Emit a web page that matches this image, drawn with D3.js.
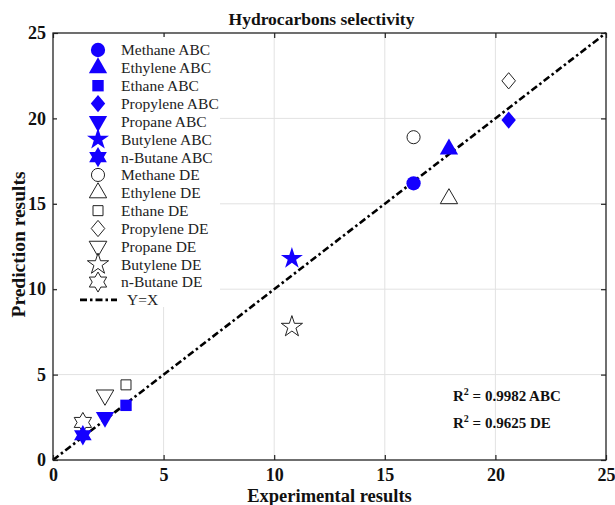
<!DOCTYPE html>
<meta charset="utf-8">
<script src="https://d3js.org/d3.v7.min.js"></script>
<style>
  body { margin: 0; background: #fff; }
  text { font-family: "Liberation Serif", "Times New Roman", serif; }
</style>
<div id="my_dataviz"></div>
<script>
  // values
  var categories = ["Methane", "Ethylene", "Ethane", "Propylene", "Propane", "Butylene", "n-Butane"];
  var experimental = [16.3, 17.9, 3.3, 20.6, 2.35, 10.8, 1.35];
  var predictedABC = [16.2, 18.2, 3.2, 19.9, 2.5, 11.8, 1.45];
  var predictedDE = [18.9, 15.3, 4.4, 22.2, 3.8, 7.8, 2.2];
  var tickValues = [0, 5, 10, 15, 20, 25];
  var r2Labels = ["0.9982 ABC", "0.9625 DE"];

  var margin = {top: 33, right: 9, bottom: 45, left: 53},
      width = 615 - margin.left - margin.right,
      height = 505 - margin.top - margin.bottom;

  var svg = d3.select("#my_dataviz")
    .append("svg")
      .attr("width", 615)
      .attr("height", 505)
    .append("g")
      .attr("transform", "translate(" + margin.left + "," + margin.top + ")");

  var x = d3.scaleLinear().domain([0, 25]).range([0, width]);
  var y = d3.scaleLinear().domain([0, 25]).range([height, 0]);

  // grid
  svg.append("g")
    .selectAll("line")
    .data(tickValues.slice(1, -1))
    .enter().append("line")
      .attr("x1", d => x(d)).attr("x2", d => x(d))
      .attr("y1", 0).attr("y2", height)
      .style("stroke", "#e2e2e2").style("stroke-width", 1);
  svg.append("g")
    .selectAll("line")
    .data(tickValues.slice(1, -1))
    .enter().append("line")
      .attr("y1", d => y(d)).attr("y2", d => y(d))
      .attr("x1", 0).attr("x2", width)
      .style("stroke", "#e2e2e2").style("stroke-width", 1);

  // axes with inward ticks
  function styleAxis(g, showLabels) {
    g.select(".domain").remove();
    g.selectAll(".tick line").style("stroke", "#222").style("stroke-width", 1.2);
    g.selectAll(".tick text")
      .style("font-family", "Liberation Serif, serif")
      .style("font-size", "18px")
      .style("font-weight", "bold")
      .style("fill", "#111")
      .style("display", showLabels ? null : "none");
  }
  svg.append("g")
    .attr("transform", "translate(0," + height + ")")
    .call(d3.axisBottom(x).tickValues(tickValues).tickSizeInner(-5).tickPadding(8))
    .call(g => styleAxis(g, true));
  svg.append("g")
    .call(d3.axisLeft(y).tickValues(tickValues).tickSizeInner(-5).tickPadding(7))
    .call(g => styleAxis(g, true));
  svg.append("g")
    .call(d3.axisTop(x).tickValues(tickValues).tickSizeInner(-5))
    .call(g => styleAxis(g, false));
  svg.append("g")
    .attr("transform", "translate(" + width + ",0)")
    .call(d3.axisRight(y).tickValues(tickValues).tickSizeInner(-5))
    .call(g => styleAxis(g, false));

  // Y=X line
  svg.append("line")
    .attr("x1", x(0)).attr("y1", y(0))
    .attr("x2", x(25)).attr("y2", y(25))
    .style("stroke", "#000").style("stroke-width", 2.6)
    .style("stroke-dasharray", "7,3,2.5,3");

  // markers
  var hexagram = {
    draw: function(context, size) {
      var R = Math.sqrt(size / 1.2), r = R / Math.sqrt(3);
      for (var i = 0; i < 12; i++) {
        var a = -Math.PI / 2 + i * Math.PI / 6, rr = i % 2 ? r : R;
        if (i === 0) context.moveTo(rr * Math.cos(a), rr * Math.sin(a));
        else context.lineTo(rr * Math.cos(a), rr * Math.sin(a));
      }
      context.closePath();
    }
  };
  var diamond = {
    draw: function(context, size) {
      var a = Math.sqrt(size / 2.4), b = a * 1.2;
      context.moveTo(0, -b);
      context.lineTo(a, 0);
      context.lineTo(0, b);
      context.lineTo(-a, 0);
      context.closePath();
    }
  };
  var shapes = [
    {type: d3.symbolCircle, filled: 160, open: 135, rot: 0},
    {type: d3.symbolTriangle, filled: 145, open: 130, rot: 0},
    {type: d3.symbolSquare, filled: 130, open: 100, rot: 0},
    {type: diamond, filled: 125, open: 110, rot: 0},
    {type: d3.symbolTriangle, filled: 145, open: 135, rot: 180},
    {type: d3.symbolStar, filled: 150, open: 140, rot: 0},
    {type: hexagram, filled: 125, open: 120, rot: 0}
  ];
  function marker(g, i, filled) {
    var s = shapes[i];
    g.append("path")
      .attr("d", d3.symbol().type(s.type).size(filled ? s.filled : s.open)())
      .attr("transform", "rotate(" + s.rot + ")")
      .style("fill", filled ? "#1400ff" : "#fff")
      .style("stroke", filled ? "none" : "#222")
      .style("stroke-width", 1);
  }

  categories.forEach(function(c, i) {
    var g = svg.append("g").attr("transform", "translate(" + x(experimental[i]) + "," + y(predictedDE[i]) + ")");
    marker(g, i, false);
  });
  categories.forEach(function(c, i) {
    var g = svg.append("g").attr("transform", "translate(" + x(experimental[i]) + "," + y(predictedABC[i]) + ")");
    marker(g, i, true);
  });

  // legend
  var legend = svg.append("g").attr("transform", "translate(4,4)");
  legend.append("rect")
    .attr("x", 0).attr("y", 0)
    .attr("width", 163).attr("height", 270)
    .style("fill", "#fff");
  var items = categories.map((c, i) => ({label: c + " ABC", i: i, filled: true}))
    .concat(categories.map((c, i) => ({label: c + " DE", i: i, filled: false})));
  items.forEach(function(d, k) {
    var ly = 13 + k * 17.85;
    var g = legend.append("g").attr("transform", "translate(41," + ly + ")");
    marker(g, d.i, d.filled);
    legend.append("text")
      .attr("x", 64).attr("y", ly)
      .attr("dy", "0.35em")
      .style("font-size", "15.5px")
      .style("fill", "#222")
      .text(d.label);
  });
  var lyl = 13 + 14 * 17.85;
  legend.append("line")
    .attr("x1", 23).attr("x2", 60)
    .attr("y1", lyl).attr("y2", lyl)
    .style("stroke", "#000").style("stroke-width", 2.6)
    .style("stroke-dasharray", "7,3,2.5,3");
  legend.append("text")
    .attr("x", 70).attr("y", lyl).attr("dy", "0.35em")
    .style("font-size", "15.5px").style("fill", "#222")
    .text("Y=X");

  // R2 annotations
  r2Labels.forEach(function(t, k) {
    var tx = svg.append("text")
      .attr("x", 400).attr("y", 368 + k * 27)
      .style("font-size", "15px").style("font-weight", "bold").style("fill", "#111");
    tx.append("tspan").text("R");
    tx.append("tspan").attr("dy", -6).style("font-size", "10px").text("2");
    tx.append("tspan").attr("dy", 6).text(" = " + t);
  });

  // box
  svg.append("rect")
    .attr("width", width).attr("height", height)
    .style("fill", "none").style("stroke", "#222").style("stroke-width", 1.3);

  // titles
  svg.append("text")
    .attr("text-anchor", "middle")
    .attr("x", width / 2 - 8).attr("y", -8)
    .style("font-size", "17.5px").style("font-weight", "bold").style("fill", "#111")
    .text("Hydrocarbons selectivity");
  svg.append("text")
    .attr("text-anchor", "middle")
    .attr("x", width / 2).attr("y", height + 41.5)
    .style("font-size", "18.5px").style("font-weight", "bold").style("fill", "#111")
    .text("Experimental results");
  svg.append("text")
    .attr("text-anchor", "middle")
    .attr("transform", "rotate(-90)")
    .attr("x", -height / 2 + 2).attr("y", -28)
    .style("font-size", "19.5px").style("font-weight", "bold").style("fill", "#111")
    .text("Prediction results");
</script>
